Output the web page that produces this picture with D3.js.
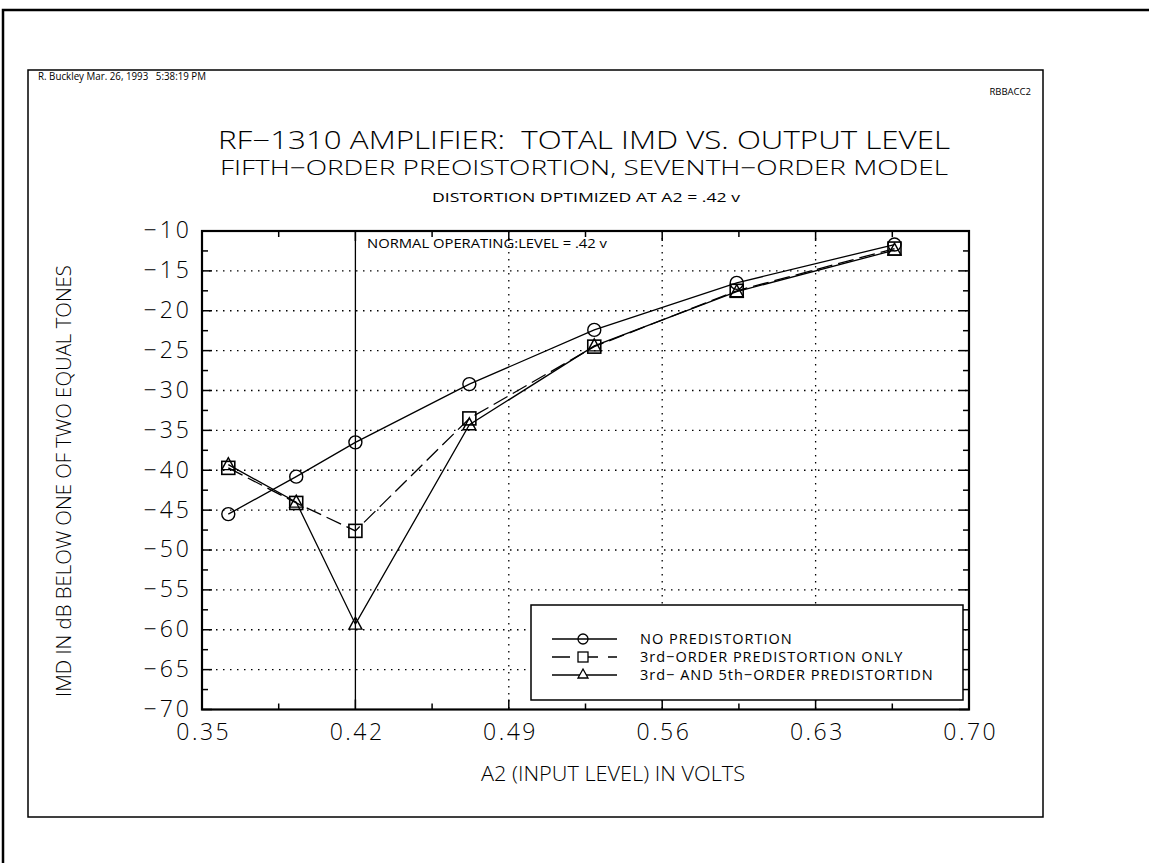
<!DOCTYPE html>
<html>
<head>
<meta charset="utf-8">
<script src="https://cdn.jsdelivr.net/npm/d3@7"></script>
<style>
  body { margin: 0; background: #fff; }
  text { font-family: "Open Sans", "DejaVu Sans", sans-serif; fill: #000; }
</style>
</head>
<body>
<svg id="chart" width="1149" height="863"></svg>
<script>
// data
const a2Volts = [0.362, 0.393, 0.42, 0.472, 0.529, 0.594, 0.666];
const noPredistortion = [-45.5, -40.8, -36.5, -29.2, -22.4, -16.5, -11.7];
const thirdOrderOnly = [-39.7, -44.1, -47.6, -33.5, -24.5, -17.5, -12.2];
const thirdFifthOrder = [-39.3, -44.0, -59.3, -34.3, -24.4, -17.6, -12.4];
const xTicks = [0.35, 0.42, 0.49, 0.56, 0.63, 0.70];
const yTicks = [-10, -15, -20, -25, -30, -35, -40, -45, -50, -55, -60, -65, -70];
const seriesNames = ["NO PREDISTORTION", "3rd\u2212ORDER PREDISTORTION ONLY", "3rd\u2212 AND 5th\u2212ORDER PREDISTORTIDN"];

const svg = d3.select("#chart");

// page frame
svg.append("path")
    .attr("d", "M3,863 L3,10 L1149,10")
    .attr("fill", "none")
    .attr("stroke", "#000")
    .attr("stroke-width", 2.5);

svg.append("rect")
    .attr("x", 28).attr("y", 70)
    .attr("width", 1015).attr("height", 747)
    .attr("fill", "none")
    .attr("stroke", "#000")
    .attr("stroke-width", 1.5);

svg.append("text")
    .attr("x", 38).attr("y", 80)
    .attr("font-size", "10.5px")
    .attr("font-family", "Arial, Liberation Sans, sans-serif")
    .style("white-space", "pre")
    .attr("textLength", 168)
    .attr("lengthAdjust", "spacingAndGlyphs")
    .text("R. Buckley Mar. 26, 1993   5:38:19 PM");

svg.append("text")
    .attr("x", 1031).attr("y", 95)
    .attr("text-anchor", "end")
    .attr("font-size", "9.5px")
    .attr("font-family", "Arial, Liberation Sans, sans-serif")
    .text("RBBACC2");

// titles
svg.append("text")
    .attr("x", 584).attr("y", 149)
    .attr("text-anchor", "middle")
    .attr("font-size", "25px")
    .attr("font-weight", 300)
    .style("white-space", "pre")
    .attr("textLength", 732)
    .attr("lengthAdjust", "spacingAndGlyphs")
    .text("RF\u22121310 AMPLIFIER:  TOTAL IMD VS. OUTPUT LEVEL");

svg.append("text")
    .attr("x", 584).attr("y", 175)
    .attr("text-anchor", "middle")
    .attr("font-size", "20px")
    .attr("font-weight", 300)
    .attr("textLength", 728)
    .attr("lengthAdjust", "spacingAndGlyphs")
    .text("FIFTH\u2212ORDER PREOISTORTION, SEVENTH\u2212ORDER MODEL");

svg.append("text")
    .attr("x", 586).attr("y", 202)
    .attr("text-anchor", "middle")
    .attr("font-size", "12px")
    .attr("textLength", 308)
    .attr("lengthAdjust", "spacingAndGlyphs")
    .text("DISTORTION DPTIMIZED AT A2 = .42 v");

// plot area
const plotLeft = 202, plotRight = 969, plotTop = 231, plotBottom = 709.5;

const x = d3.scaleLinear().domain([0.35, 0.70]).range([plotLeft, plotRight]);
const y = d3.scaleLinear().domain([-70, -10]).range([plotBottom, plotTop]);

const grid = svg.append("g").attr("class", "grid");

// horizontal dotted grid
grid.selectAll(".hgrid")
    .data(yTicks.filter(d => d > -70 && d < -10))
    .enter().append("line")
    .attr("x1", plotLeft).attr("x2", plotRight)
    .attr("y1", d => y(d)).attr("y2", d => y(d))
    .attr("stroke", "#000")
    .attr("stroke-width", 1.3)
    .attr("stroke-dasharray", "1.5,5.5");

// vertical dotted grid
grid.selectAll(".vgrid")
    .data(xTicks.filter(d => d > 0.35 && d < 0.70 && d !== 0.42))
    .enter().append("line")
    .attr("x1", d => x(d)).attr("x2", d => x(d))
    .attr("y1", plotTop).attr("y2", plotBottom)
    .attr("stroke", "#000")
    .attr("stroke-width", 1.3)
    .attr("stroke-dasharray", "1.5,5.5");

// normal operating level line
svg.append("line")
    .attr("x1", x(0.42)).attr("x2", x(0.42))
    .attr("y1", plotTop).attr("y2", plotBottom)
    .attr("stroke", "#000")
    .attr("stroke-width", 1.3);

svg.append("text")
    .attr("x", 367).attr("y", 248)
    .attr("font-size", "13.5px")
    .attr("textLength", 240)
    .attr("lengthAdjust", "spacingAndGlyphs")
    .text("NORMAL OPERATING:LEVEL = .42 v");

// axes
const minorY = d3.range(-67.5, -10, 5);
const minorX = d3.range(0, 5).map(i => 0.385 + i * 0.07);

const yAxis = d3.axisLeft(y).tickValues(yTicks).tickSize(0).tickPadding(10)
    .tickFormat(d => d3.format("d")(d).replace("-", "\u2212").replace("\u2212", "\u2212"));
svg.append("g")
    .attr("transform", `translate(${plotLeft},0)`)
    .call(yAxis)
    .call(g => g.select(".domain").remove())
    .selectAll("text")
    .attr("font-size", "23px")
    .attr("font-weight", 300)
    .attr("letter-spacing", "3px")
    .attr("dy", "0.3em");

const xAxis = d3.axisBottom(x).tickValues(xTicks).tickSize(0).tickPadding(14)
    .tickFormat(d3.format(".2f"));
svg.append("g")
    .attr("transform", `translate(0,${plotBottom})`)
    .call(xAxis)
    .call(g => g.select(".domain").remove())
    .selectAll("text")
    .attr("font-size", "23px")
    .attr("font-weight", 300)
    .attr("letter-spacing", "2.5px")
    .attr("dx", "1.25px");

// inward ticks on all four sides
const ticks = svg.append("g").attr("stroke", "#000").attr("stroke-width", 1.5);
ticks.selectAll(".yl").data(yTicks.concat(minorY)).enter().append("line")
    .attr("x1", plotLeft).attr("x2", d => plotLeft + (minorY.includes(d) ? 6 : 10))
    .attr("y1", d => y(d)).attr("y2", d => y(d));
ticks.selectAll(".yr").data(yTicks.concat(minorY)).enter().append("line")
    .attr("x1", plotRight).attr("x2", d => plotRight - (minorY.includes(d) ? 6 : 10))
    .attr("y1", d => y(d)).attr("y2", d => y(d));
ticks.selectAll(".xt").data(xTicks.concat(minorX)).enter().append("line")
    .attr("x1", d => x(d)).attr("x2", d => x(d))
    .attr("y1", plotTop).attr("y2", d => plotTop + (minorX.includes(d) ? 6 : 10));
ticks.selectAll(".xb").data(xTicks.concat(minorX)).enter().append("line")
    .attr("x1", d => x(d)).attr("x2", d => x(d))
    .attr("y1", plotBottom).attr("y2", d => plotBottom - (minorX.includes(d) ? 6 : 10));

svg.append("rect")
    .attr("x", plotLeft).attr("y", plotTop)
    .attr("width", plotRight - plotLeft).attr("height", plotBottom - plotTop)
    .attr("fill", "none")
    .attr("stroke", "#000")
    .attr("stroke-width", 2.2);

// axis titles
svg.append("text")
    .attr("transform", "translate(71,481) rotate(-90)")
    .attr("text-anchor", "middle")
    .attr("font-size", "20px")
    .attr("font-weight", 300)
    .attr("textLength", 432)
    .attr("lengthAdjust", "spacingAndGlyphs")
    .text("IMD IN dB BELOW ONE OF TWO EQUAL TONES");

svg.append("text")
    .attr("x", 613).attr("y", 781)
    .attr("text-anchor", "middle")
    .attr("font-size", "20px")
    .attr("font-weight", 300)
    .attr("textLength", 264)
    .attr("lengthAdjust", "spacingAndGlyphs")
    .text("A2 (INPUT LEVEL) IN VOLTS");

// series
const series = [
    { values: noPredistortion, dash: null, marker: "circle" },
    { values: thirdOrderOnly, dash: "16,6", marker: "square" },
    { values: thirdFifthOrder, dash: null, marker: "triangle" }
];

const line = d3.line().x(d => x(d[0])).y(d => y(d[1]));

function drawMarker(g, kind, cx, cy) {
    if (kind === "circle") {
        g.append("circle").attr("cx", cx).attr("cy", cy).attr("r", 6.5)
            .attr("fill", "none").attr("stroke", "#000").attr("stroke-width", 1.4);
    } else if (kind === "square") {
        g.append("rect").attr("x", cx - 6.5).attr("y", cy - 6.5)
            .attr("width", 13).attr("height", 13)
            .attr("fill", "none").attr("stroke", "#000").attr("stroke-width", 1.6);
    } else {
        g.append("path")
            .attr("d", `M${cx},${cy - 7} L${cx + 6.5},${cy + 5} L${cx - 6.5},${cy + 5} Z`)
            .attr("fill", "none").attr("stroke", "#000").attr("stroke-width", 1.4);
    }
}

series.forEach(s => {
    const pts = a2Volts.map((v, i) => [v, s.values[i]]);
    svg.append("path")
        .datum(pts)
        .attr("d", line)
        .attr("fill", "none")
        .attr("stroke", "#000")
        .attr("stroke-width", 1.3)
        .attr("stroke-dasharray", s.dash);
    const mg = svg.append("g");
    pts.forEach(p => drawMarker(mg, s.marker, x(p[0]), y(p[1])));
});

// legend
const legend = svg.append("g").attr("transform", "translate(531,605)");
legend.append("rect")
    .attr("width", 432).attr("height", 95)
    .attr("fill", "#fff")
    .attr("stroke", "#000")
    .attr("stroke-width", 1.5);

series.forEach((s, i) => {
    const ly = 34 + i * 18;
    legend.append("line")
        .attr("x1", 21).attr("x2", 86)
        .attr("y1", ly).attr("y2", ly)
        .attr("stroke", "#000")
        .attr("stroke-width", 1.3)
        .attr("stroke-dasharray", s.dash ? "18,10" : null);
    const mg = legend.append("g");
    if (s.marker === "circle") {
        mg.append("circle").attr("cx", 52).attr("cy", ly).attr("r", 5)
            .attr("fill", "none").attr("stroke", "#000").attr("stroke-width", 1.3);
    } else if (s.marker === "square") {
        mg.append("rect").attr("x", 47).attr("y", ly - 5).attr("width", 10).attr("height", 10)
            .attr("fill", "#fff").attr("stroke", "#000").attr("stroke-width", 1.3);
    } else {
        mg.append("path").attr("d", `M52,${ly - 6} L57,${ly + 3} L47,${ly + 3} Z`)
            .attr("fill", "#fff").attr("stroke", "#000").attr("stroke-width", 1.3);
    }
    legend.append("text")
        .attr("x", 109).attr("y", ly + 5)
        .attr("font-size", "14.5px")
        .attr("letter-spacing", "1px")
        .text(seriesNames[i]);
});
</script>
</body>
</html>
